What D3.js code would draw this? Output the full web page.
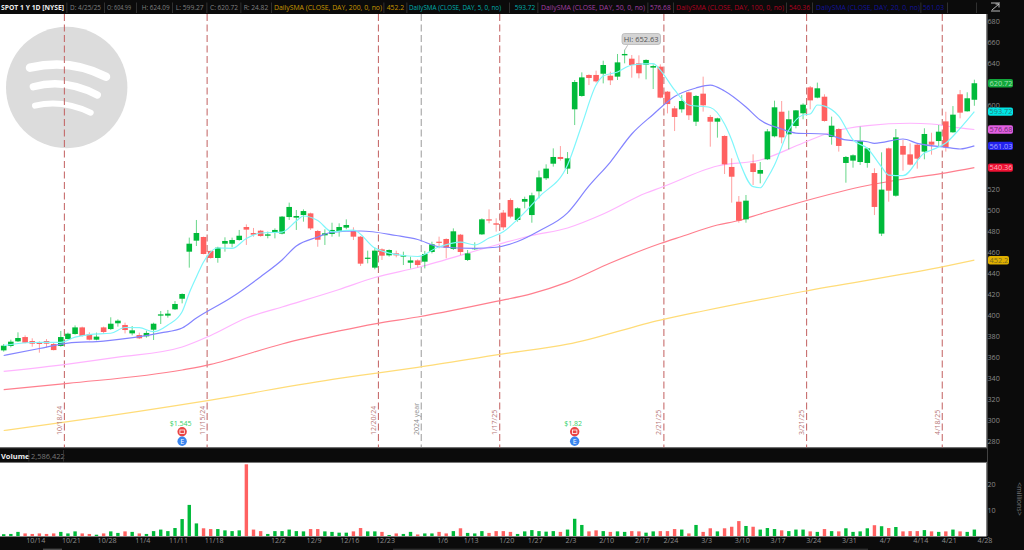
<!DOCTYPE html>
<html><head><meta charset="utf-8">
<script src="https://cdn.jsdelivr.net/npm/d3@7"></script>
<style>
html,body{margin:0;padding:0;background:#0b0b0b;overflow:hidden}
svg{display:block}
text{font-family:"Open Sans",sans-serif}
</style></head><body>
<svg id="c" width="1024" height="550"></svg>
<script>
const dates=["10/8","10/9","10/10","10/11","10/14","10/15","10/16","10/17","10/18","10/21","10/22","10/23","10/24","10/25","10/28","10/29","10/30","10/31",
"11/1","11/4","11/5","11/6","11/7","11/8","11/11","11/12","11/13","11/14","11/15","11/18","11/19","11/20","11/21","11/22","11/25","11/26","11/27","11/29",
"12/2","12/3","12/4","12/5","12/6","12/9","12/10","12/11","12/12","12/13","12/16","12/17","12/18","12/19","12/20","12/23","12/24","12/26","12/27","12/30","12/31",
"1/2","1/3","1/6","1/7","1/8","1/10","1/13","1/14","1/15","1/16","1/17","1/21","1/22","1/23","1/24","1/27","1/28","1/29","1/30","1/31",
"2/3","2/4","2/5","2/6","2/7","2/10","2/11","2/12","2/13","2/14","2/18","2/19","2/20","2/21","2/24","2/25","2/26","2/27","2/28",
"3/3","3/4","3/5","3/6","3/7","3/10","3/11","3/12","3/13","3/14","3/17","3/18","3/19","3/20","3/21","3/24","3/25","3/26","3/27","3/28","3/31",
"4/1","4/2","4/3","4/4","4/7","4/8","4/9","4/10","4/11","4/14","4/15","4/16","4/17","4/21","4/22","4/23","4/24","4/25"];
const nextDate="4/28";
const opens=[366.3,370.5,374.9,379,375.2,374.3,375.2,372.4,370.5,377.1,
381.9,388.2,381.6,376.5,388.2,386.6,392.1,390.5,382.5,380.9,
379.7,386,399.4,399.4,405.4,415.5,460.3,470.8,474.3,461,
454.3,467.9,467.9,471.4,483.8,478.1,480.3,475.5,478.4,477.5,
493.3,492.7,495.2,496.8,480,475.9,477.2,480,483.2,480,
474.6,453.6,445.1,462.5,456.8,458.7,455.6,449.8,452,450.8,
460,469.8,472.4,462.9,476.5,452.4,462.9,476.8,491.1,487.3,
497.5,509.5,490.5,507.9,495.2,517.8,530.2,544.1,550.5,539.4,
595.9,608.6,628.6,628.6,629.8,627.9,627,647.3,644.1,639.7,
638.4,635.6,636.5,612.7,596.8,595.9,612.1,584.1,610.8,588.6,
584.1,570.5,541,507.9,491.1,544.5,534.6,548.3,570.2,593.6,
572.1,580,592.1,616.8,607,607.9,569.5,577.1,544.8,547,
545.7,544.8,535.2,477.5,558.7,513.6,561,553,562.2,555.6,
565.1,565.7,584.4,574,610.2,594,604.99];
const highs=[372.4,376.5,383.5,380.6,377.8,374.9,377.1,373.6,384.8,383.2,
390.1,388.9,383.5,383.2,388.9,397.8,395.9,392.7,389.5,383.2,
385.1,392.7,403.8,404.8,413.3,420.6,473.7,490.5,474.6,461.3,
465,474,473.7,481,486.3,482.9,481,479.4,482.5,494.3,
507,500,500.6,497.5,481,481.6,487.9,487.3,491.1,483.5,
475.2,461.3,464.1,463.5,462.5,461.3,460.3,455.6,453,461,
469.8,474.6,473,482.5,477.2,461.9,469.2,492.1,500.6,492.1,
500,511.1,502.5,512.7,516.5,537.5,543.5,558.7,560.9,555.2,
623.8,631.1,629.2,632.7,642.2,631.7,648.6,652.63,647.6,647.3,
643.5,638.7,638.7,613.3,599,609.5,612.7,609.5,627,590.5,
587.9,571.1,549.2,513.3,514.3,553,545.7,577.1,604.1,603.8,
594.6,595.2,601.6,618.1,621.3,610.2,588.9,577.8,551.4,553,
579.4,559.4,539.7,554.9,559.4,577.1,566.7,563.5,563.5,577.8,
573.6,580.9,593.6,599,614.3,612.1,624.09];
const lows=[365.1,369.2,374.3,373,369.8,364.1,368.9,366.3,369.8,376.8,
381.3,379.4,375.9,375.9,381.9,385.7,388.9,382.5,380.6,377.1,
378.4,376.2,391.4,397.5,404.8,411.1,445.1,465.7,457.8,453.7,
449.8,460.3,464.4,470.8,466.7,474.6,474.6,473,473,476.8,
490.5,481,488.9,481,465,466.7,474.6,474.6,481.6,471.4,
446.7,449.2,443.5,452.4,455.6,454.9,447.6,444.4,445.4,444.4,
458.7,463.5,454,461.9,457.1,451.4,461.9,476.2,487.3,479.4,
481,492.1,488.9,501.6,487.9,511.1,528.6,541.3,547,534.3,
580.9,607.9,619,621.3,620.6,619,623.8,639.7,626,625.4,
624.4,615.2,606.4,592,575.2,592.7,585.7,580,593.7,560.3,
568.9,534.3,507,487.9,487.9,523.8,525.4,547.6,569.2,563.5,
557.8,577.8,586.4,595.9,606.4,584.1,562.2,555.6,526,540.3,
542.9,540.3,495.2,475.2,507.9,512.7,537.5,542.5,539.4,548.3,
552.7,561,555.6,573.6,587.3,593.7,599.27];
const closes=[370.8,374.6,378.1,373.6,372.7,372.4,372.7,366.6,379,382.2,
388.2,380,376.5,379.4,383.8,391.7,394.6,385.7,385.4,377.8,
382.9,391.7,400.6,401.3,410.5,420,467.9,478.1,458.1,454.3,
464.1,470.5,471.4,475.5,481.3,476.5,475.2,476.8,481,493.7,
502.9,494.3,499,482.5,471.7,477.8,481,483.8,485.7,474.6,
448.9,454.6,461.3,456.5,461.9,456.8,456.8,452,447.6,458.1,
467.3,468.9,464.1,479.7,460,458.7,463.8,491.1,490.2,486,
483.5,493.7,501.6,510.5,514,531.1,539.4,550.5,548.6,549.2,
621.9,626.3,625.7,622.5,638.1,623.5,640.6,648.6,638.1,630.2,
642.9,637.1,607,600.9,588.6,603.8,590.2,608.6,599.7,584.1,
587.3,543.5,531.7,489.8,508.9,536.2,538.1,574.9,597.8,569.2,
586.4,594.9,600.3,604.4,615.9,584.8,580.3,561,550.5,552.1,
565.7,558.7,502.9,519.4,518.4,569.2,552.7,543.2,548.9,572.4,
562.2,574.6,559.7,590.8,592.7,606.4,620.72];
const volumes=[.7,.8,1.6,1,.8,1,.8,1,1.6,1,
1.8,1,.8,.5,1,1.8,1.2,1.8,1.6,1,
.8,1.9,2.5,1.9,3.1,6.6,12.1,4.9,3,2.7,
2.7,2.2,1.9,2.2,27.9,2.5,1.9,.8,1.9,1.9,
2.5,1.9,1.8,2.7,2.7,1.8,1.6,1.3,1.3,1.8,
3.1,1.8,1.8,1.6,.4,1,.8,1.6,.6,1,
1,1.6,1,1.9,3,1.2,1,1.9,1.2,1.9,
1.9,1.6,.8,1.8,2.3,1.9,1.7,1.9,1.6,2.5,
6.7,4.3,1.8,2.2,1.9,1.6,1.8,1.6,1.9,1.8,
1.3,1.8,1.9,1.9,2.7,2.5,1,4.3,1.6,3,
1.8,3,3.6,5.8,3.9,3.6,2.5,3.1,2.7,2.2,
1.9,2.5,2.5,1.8,1.6,2.7,1.9,1.8,3,1.6,
1.8,3,4.2,3.8,3.1,3.5,1.8,1.9,1.9,2.3,
1.8,1.6,1.8,2.5,1.8,1.6,2.5];

// Moving averages: bar number, then value
const sma200Bars=[0,9,29,47,52,58,70,79,92,98,112,132,136];
const sma200=[290,298.4,319,339.7,344.4,350.2,363,372.2,395.2,403.8,422.4,446.5,452.2];
const sma100Bars=[0,9,25,29,32,39,47,52,58,69,74,79,85,92,95,100,103,106,112,121,127,132,136];
const sma100=[328.9,334.9,347.6,352.9,358.5,372.4,384.8,391.6,398.1,412.9,420.4,431.3,449.5,468.1,474.8,485.7,490,496.2,508.1,523.3,530.5,535.4,540.36];
const sma50Bars=[0,9,16,25,29,34,39,47,52,58,69,74,79,84,90,92,100,106,112,116,121,127,130,133,136];
const sma50=[346.3,353.3,359.8,369.5,380.5,397.1,407.6,424.3,435.7,445.2,466.7,475.7,482.9,496.2,516.2,521.2,541.9,547.6,563.8,574.3,580.3,582.6,581.9,579,576.68];
const sma20Bars=[0,5,9,14,22,25,27,32,36,39,41,44,46,50,55,58,61,66,69,72,75,79,82,85,88,91,94,97,99,101,104,106,109,111,115,118,121,122,126,128,132,134,136];
const sma20=[361.4,368.1,373.3,375.2,382.9,387.6,397.1,417.1,436.5,452.4,465.7,474.3,478.8,480,475.7,471.9,465,463.5,464.5,470,480,497.3,522.9,545.7,572.4,591,608.1,616.2,619,613.3,598.1,585.7,577.1,573.3,572.4,566.7,565,563.5,567.6,563.5,559.7,558.1,561.03];
const sma5Bars=[0,4,8,10,12,15,17,19,21,23,25,26,27,28,30,32,34,36,39,41,42,44,46,49,52,54,58,61,64,66,68,70,72,75,79,81,83,84,86,88,91,92,94,96,99,101,102,103,105,106,107,108,110,112,113,114,115,117,119,121,123,124,126,129,130,132,134,136];
const sma5=[370.8,373.8,374,379,381.4,382.6,388.1,387.9,384.1,390.5,403.1,421,436.2,450.5,463.8,463.5,472.9,478.1,479,489.5,494.3,490,479.3,480.9,463.8,459,455.7,465,469.5,466.7,473.3,479.3,491,512.4,542.9,581,619,627.6,631.4,638.1,639.5,633.3,614.3,600,597.6,581.9,566.7,547.6,522.2,521.2,530.5,542.9,576.2,590.5,591.4,600,599,589.5,566.7,558.8,541,533.3,532.7,554.3,557.1,563.8,577.8,593.72];

const priceTicks=[280,300,320,340,360,380,400,420,440,460,480,500,520,600,640,660,680];
const volumeTicks=[0,10,20];
const tickLabels=["10/14","10/21","10/28","11/4","11/11","11/18","12/2","12/9","12/16","12/23","1/6","1/13","1/20","1/27","2/3","2/10","2/17","2/24","3/3","3/10","3/17","3/24","3/31","4/7","4/14","4/21","4/28"];
const tickDates=["10/14","10/21","10/28","11/4","11/11","11/18","12/2","12/9","12/16","12/23","1/6","1/13","1/21","1/27","2/3","2/10","2/18","2/24","3/3","3/10","3/17","3/24","3/31","4/7","4/14","4/21","4/28"];
const eventDates=["10/18","11/15","12/20","12/31","1/17","2/21","3/21","4/17"];
const eventLabels=["10/18/24","11/15/24","12/20/24","2024 year","1/17/25","2/21/25","3/21/25","4/18/25"];
const dividendDates=["11/13","2/4"];
const dividendLabels=["$1.545","$1.82"];
const headInfo=["D: 4/25/25","O: 604.99","H: 624.09","L: 599.27","C: 620.72","R: 24.82"];
const studies=["DailySMA (CLOSE, DAY, 200, 0, no)","DailySMA (CLOSE, DAY, 5, 0, no)","DailySMA (CLOSE, DAY, 50, 0, no)","DailySMA (CLOSE, DAY, 100, 0, no)","DailySMA (CLOSE, DAY, 20, 0, no)"];
const studyLast=[452.2,593.72,576.68,540.36,561.03];

const GREEN="#00ba3a",RED="#ff6161";
const svg=d3.select("#c");
const x=d3.scalePoint().domain(dates.concat(nextDate)).range([3.7,981.5]);
const y=d3.scaleLinear().domain([280,680]).range([441,21]);
const yv=d3.scaleLinear().domain([0,20]).range([536,484.6]);

// panels
svg.append("rect").attr("width",1024).attr("height",550).attr("fill","#0b0b0b");
svg.append("rect").attr("x",0).attr("y",14).attr("width",986.5).attr("height",433.5).attr("fill","#fff");
svg.append("rect").attr("x",0).attr("y",463).attr("width",986.5).attr("height",73.5).attr("fill","#fff");
svg.append("rect").attr("x",986.5).attr("y",14).attr("width",1).attr("height",522).attr("fill","#7a7a7a");
svg.append("rect").attr("x",0).attr("y",447.3).attr("width",987).attr("height",1.2).attr("fill","#666");
svg.append("rect").attr("x",0).attr("y",461.8).attr("width",987).attr("height",1.2).attr("fill","#777");

// logo
const logo=svg.append("g");
logo.append("circle").attr("cx",66.7).attr("cy",87.5).attr("r",60.7).attr("fill","#dcdcdc");
[["M30 67.7Q70 58 106 76.7",8.5],["M33.3 86.7Q65 78 97.3 95",7.3],["M35 105.7Q62 99 90.7 112.7",6]].forEach(a=>
 logo.append("path").attr("d",a[0]).attr("fill","none").attr("stroke","#fff").attr("stroke-width",a[1]).attr("stroke-linecap","round"));

// event lines
const ev=svg.append("g");
eventDates.forEach((d,i)=>{
 const px=x(d)+x.step()/2, isYear=eventLabels[i].includes("year");
 const col=isYear?"#9a9a9a":"#c25f5f";
 ev.append("line").attr("x1",px).attr("x2",px).attr("y1",14).attr("y2",447.3).attr("stroke",col).attr("stroke-width",1).attr("stroke-dasharray","7,3.5");
});

// moving averages
const line=d3.line().x(d=>x(dates[d[0]])).y(d=>y(d[1])).curve(d3.curveMonotoneX);
[[sma200Bars,sma200,"#ffdc78"],[sma100Bars,sma100,"#ff7f8e"],[sma50Bars,sma50,"#ffb4ff"]].forEach(s=>
 svg.append("path").attr("d",line(s[0].map((b,i)=>[b,s[1][i]]))).attr("fill","none").attr("stroke",s[2]).attr("stroke-width",1.2));

eventDates.forEach((d,i)=>{
 const px=x(d)+x.step()/2, isYear=eventLabels[i].includes("year");
 ev.clone(false);
 svg.append("text").attr("transform",`translate(${px-2.6},435) rotate(-90)`).attr("font-size",7).attr("fill",isYear?"#8a8a8a":"#b87878").text(eventLabels[i]);
});

// candles
const rows=dates.map((d,i)=>({d,o:opens[i],h:highs[i],l:lows[i],c:closes[i],v:volumes[i]}));
const col=r=>r.c>=r.o?GREEN:RED;
const cg=svg.append("g");
cg.selectAll("line").data(rows).join("line")
 .attr("x1",r=>x(r.d)).attr("x2",r=>x(r.d)).attr("y1",r=>y(r.h)).attr("y2",r=>y(r.l))
 .attr("stroke",col).attr("stroke-width",1).attr("stroke-opacity",.6);
cg.selectAll("rect").data(rows).join("rect")
 .attr("x",r=>x(r.d)-2.8).attr("width",5.6)
 .attr("y",r=>y(Math.max(r.o,r.c))).attr("height",r=>Math.max(1.2,Math.abs(y(r.o)-y(r.c))))
 .attr("fill",col);

[[sma20Bars,sma20,"#8484ff"],[sma5Bars,sma5,"#7ff6fb"]].forEach(s=>
 svg.append("path").attr("d",line(s[0].map((b,i)=>[b,s[1][i]]))).attr("fill","none").attr("stroke",s[2]).attr("stroke-width",1.2));

// high label
const hiDate=dates[d3.range(dates.length).sort((a,b)=>highs[b]-highs[a])[0]];
const hi=svg.append("g");
hi.append("path").attr("d",`M${x(hiDate)},${y(d3.max(highs))+.5}L${x(hiDate)+3},${y(d3.max(highs))-4.5}`).attr("stroke","#bbb").attr("fill","none");
hi.append("rect").attr("x",622).attr("y",33.5).attr("width",38.5).attr("height",11).attr("rx",2.5).attr("fill","#d4d4d4").attr("stroke","#b0b0b0").attr("stroke-width",.7);
hi.append("text").attr("x",641.2).attr("y",41.6).attr("text-anchor","middle").attr("font-size",7.5).attr("fill","#555").text("Hi: "+d3.max(highs));

// dividends / earnings
dividendDates.forEach((d,i)=>{
 const px=x(dates[[25,80][i]]);
 svg.append("text").attr("x",px-1.5).attr("y",426).attr("text-anchor","middle").attr("font-size",7).attr("fill","#35d06a").text(dividendLabels[i]);
 svg.append("circle").attr("cx",px).attr("cy",431.7).attr("r",4.7).attr("fill","#ea4444");
 svg.append("rect").attr("x",px-2.2).attr("y",430).attr("width",4.4).attr("height",3.4).attr("fill","none").attr("stroke","#fff").attr("stroke-width",.8);
 svg.append("circle").attr("cx",px).attr("cy",441.3).attr("r",4.7).attr("fill","#3a86f0");
 svg.append("text").attr("x",px).attr("y",444).attr("text-anchor","middle").attr("font-size",7).attr("fill","#fff").text("E");
});
// keep the markers above the pane edge
svg.append("rect").attr("x",0).attr("y",448.5).attr("width",987).attr("height",13.3).attr("fill","#0b0b0b");

// volume
svg.append("g").selectAll("rect").data(rows).join("rect")
 .attr("x",r=>x(r.d)-1.7).attr("width",3.4)
 .attr("y",r=>yv(r.v)).attr("height",r=>yv(0)-yv(r.v)).attr("fill",col);

// axes
const axY=svg.append("g").attr("transform","translate(987.5,0)").call(d3.axisRight(y).tickValues(priceTicks).tickSize(0).tickPadding(0));
axY.select(".domain").remove();
axY.selectAll("text").attr("font-size",7.2).attr("fill","#8a8a8a").attr("font-family",'"Open Sans",sans-serif');
const axV=svg.append("g").attr("transform","translate(987.5,0)").call(d3.axisRight(yv).tickValues(volumeTicks).tickSize(0).tickPadding(0).tickFormat(d=>d===0?"-":d));
axV.select(".domain").remove();
axV.selectAll("text").attr("font-size",7.2).attr("fill","#8a8a8a").attr("font-family",'"Open Sans",sans-serif');
svg.append("text").attr("transform","translate(1017,499) rotate(90)").attr("text-anchor","middle").attr("font-size",7).attr("fill","#777").text("<millions>");

const axX=svg.append("g").attr("transform","translate(3,536)").call(d3.axisBottom(x).tickValues(tickDates).tickSize(0).tickPadding(2).tickFormat(d=>tickLabels[tickDates.indexOf(d)]));
axX.select(".domain").remove();
axX.selectAll("text").attr("font-size",7.2).attr("fill","#8d8d8d").attr("font-family",'"Open Sans",sans-serif');
svg.append("rect").attr("x",43).attr("y",548.6).attr("width",19).attr("height",1.4).attr("fill","#4a4a4a");
svg.append("rect").attr("x",393).attr("y",548.6).attr("width",475).attr("height",1.4).attr("fill","#2e2e2e");

// badges
const badgeFill=["#e0b000","#00e5e5","#e35fe3","#ee1133","#2222ee"];
const badgeText=["#7a6a20","#2a7a7a","#6d2f6d","#ffb0b8","#a8a8ff"];
const badgeWide=[21,25,25,25,25];
[1,2,4,3,0].forEach(i=>{
 const v=studyLast[i];
 svg.append("rect").attr("x",988).attr("y",y(v)-4.2).attr("width",badgeWide[i]).attr("height",8.4).attr("rx",2).attr("fill",badgeFill[i]);
 svg.append("text").attr("x",989.5).attr("y",y(v)+2.6).attr("font-size",7.4).attr("fill",badgeText[i]).text(v);
});
svg.append("rect").attr("x",988).attr("y",y(closes[136])-4.2).attr("width",25).attr("height",8.4).attr("rx",2).attr("fill","#12a83c");
svg.append("text").attr("x",989.5).attr("y",y(closes[136])+2.6).attr("font-size",7.4).attr("fill","#a6e0b4").text(closes[136]);

// header
const cells=[
 [headInfo[0],70,31,"#808080"],[headInfo[1],107,24,"#808080"],[headInfo[2],141.7,28,"#808080"],[headInfo[3],175.7,28,"#808080"],[headInfo[4],210,28,"#808080"],[headInfo[5],243.7,24.5,"#808080"],
 [studies[0],274,108,"#c79600"],[String(studyLast[0]),386.7,17.5,"#c79600"],
 [studies[1],409,92,"#00adad"],[String(studyLast[1]),514.7,20.5,"#00adad"],
 [studies[2],541,104,"#a23fa2"],[String(studyLast[2]),650,20.7,"#a23fa2"],
 [studies[3],676,108,"#b00020"],[String(studyLast[3]),789,21,"#b00020"],
 [studies[4],816,104,"#12129a"],[String(studyLast[4]),923,21,"#12129a"]];
const hd=svg.append("g");
hd.append("text").attr("x",1).attr("y",10).attr("font-size",7.5).attr("font-weight",700).attr("fill","#eee").attr("textLength",63).attr("lengthAdjust","spacingAndGlyphs").text("SPOT 1 Y 1D [NYSE]");
[66.5,104,136,172,206.5,240.5,271,383.5,406.5,509,537.5,647.5,673,786,812,920.5,947,976].forEach(px=>
 hd.append("rect").attr("x",px).attr("y",2.5).attr("width",.8).attr("height",10.5).attr("fill","#3a3a3a"));
cells.forEach(c=>hd.append("text").attr("x",c[1]).attr("y",10).attr("font-size",7.5).attr("fill",c[3]).attr("textLength",c[2]).attr("lengthAdjust","spacingAndGlyphs").text(c[0]));
hd.append("path").attr("d","M991 3H1000M991 11H1000M992 10L999 4M995.5 4H999V7.5").attr("fill","none").attr("stroke","#ccc").attr("stroke-width",.9);
// volume header
svg.append("text").attr("x",1).attr("y",458.5).attr("font-size",7.5).attr("font-weight",700).attr("fill","#eee").text("Volume");
svg.append("text").attr("x",31).attr("y",458.5).attr("font-size",7.5).attr("fill","#777").text("2,586,422");
[28.5,63].forEach(px=>svg.append("rect").attr("x",px).attr("y",450).attr("width",.8).attr("height",11.5).attr("fill","#3a3a3a"));
</script>
</body></html>
